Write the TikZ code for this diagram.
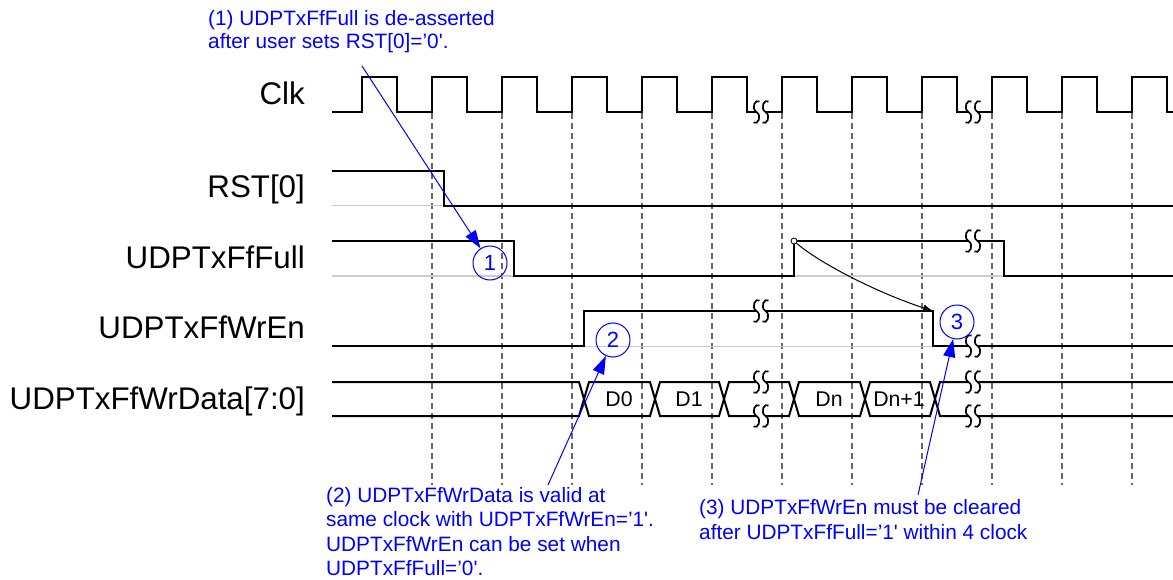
\documentclass[tikz,border=0pt]{standalone}
\usepackage{fontspec}
\setmainfont{Liberation Sans}
\usetikzlibrary{arrows.meta}

\begin{document}
\begin{tikzpicture}[x=1pt, y=-1pt, font=\fontsize{20.8}{24}\selectfont]
    \tikzset{
        wave/.style={line width=2pt, line join=miter},
        baseln/.style={line width=1pt, black!20},
        clkline/.style={line width=1.6pt, black!60, dash pattern=on 6pt off 4pt},
        siglabel/.style={anchor=base east, inner sep=0pt, font=\fontsize{31.3}{31}\selectfont},
        datalabel/.style={inner sep=0pt, font=\fontsize{21.3}{21}\selectfont},
        note/.style={anchor=north west, inner sep=0pt, align=left, text=blue},
        numcirc/.style={circle, draw=blue, line width=1pt, minimum size=34pt,
            inner sep=0pt, text=blue, font=\fontsize{22}{22}\selectfont},
        callout/.style={blue, line width=1pt, -{Triangle[length=18pt, width=12pt]}},
        brk/.pic={
            \fill[white] (-4.5,-4) rectangle (4.5,4);
            \draw[line width=1.7pt] (-1.5,-10.5) .. controls (-5.5,-13.5) and (-10.5,-4) .. (-4.5,0)
                .. controls (1.5,4) and (-3.5,13.5) .. (-7.5,10.5);
            \draw[line width=1.7pt] (7.5,-10.5) .. controls (3.5,-13.5) and (-1.5,-4) .. (4.5,0)
                .. controls (10.5,4) and (5.5,13.5) .. (1.5,10.5);
        }
    }
    \useasboundingbox (0,0) rectangle (1173,580);

    % signal names
    \node[siglabel] (lclk) at (305,105) {Clk};
    \node[siglabel] (lrst) at (305,198) {RST[0]};
    \node[siglabel] (lfull) at (305,269) {UDPTxFfFull};
    \node[siglabel] (lwren) at (305,338) {UDPTxFfWrEn};
    \node[siglabel] (lwrdata) at (305,409) {UDPTxFfWrData[7:0]};

    % clock edges
    \draw[clkline] (432,113) -- (432,485);
    \draw[clkline] (502,113) -- (502,485);
    \draw[clkline] (572,113) -- (572,485);
    \draw[clkline] (642,113) -- (642,485);
    \draw[clkline] (712,113) -- (712,485);
    \draw[clkline] (782,113) -- (782,485);
    \draw[clkline] (852,113) -- (852,485);
    \draw[clkline] (922,113) -- (922,485);
    \draw[clkline] (992,113) -- (992,485);
    \draw[clkline] (1062,113) -- (1062,485);
    \draw[clkline] (1132,113) -- (1132,485);

    \draw[baseln] (332,206) -- (1173,206);
    \draw[baseln] (332,276) -- (1173,276);
    \draw[baseln] (332,346) -- (1173,346);

    % Clk
    \draw[wave] (332,112) -- ++(30,0)
        -- ++(0,-35) -- ++(35,0) -- ++(0,35) -- ++(35,0)
        -- ++(0,-35) -- ++(35,0) -- ++(0,35) -- ++(35,0)
        -- ++(0,-35) -- ++(35,0) -- ++(0,35) -- ++(35,0)
        -- ++(0,-35) -- ++(35,0) -- ++(0,35) -- ++(35,0)
        -- ++(0,-35) -- ++(35,0) -- ++(0,35) -- ++(35,0)
        -- ++(0,-35) -- ++(35,0) -- ++(0,35) -- ++(35,0)
        -- ++(0,-35) -- ++(35,0) -- ++(0,35) -- ++(35,0)
        -- ++(0,-35) -- ++(35,0) -- ++(0,35) -- ++(35,0)
        -- ++(0,-35) -- ++(35,0) -- ++(0,35) -- ++(35,0)
        -- ++(0,-35) -- ++(35,0) -- ++(0,35) -- ++(35,0)
        -- ++(0,-35) -- ++(35,0) -- ++(0,35) -- ++(35,0)
        -- ++(0,-35) -- ++(35,0) -- ++(0,35) -- (1173,112);
    \pic at (761,112) {brk};
    \pic at (973,112) {brk};

    % RST[0]
    \draw[wave] (332,171) -- (444,171) -- (444,206) -- (1173,206);

    % UDPTxFfFull
    \draw[wave] (332,241) -- (514,241) -- (514,276) -- (794,276) -- (794,241)
        -- (1004,241) -- (1004,276) -- (1173,276);
    \pic at (973,241) {brk};

    % UDPTxFfWrEn
    \draw[wave] (332,346) -- (584,346) -- (584,311) -- (933,311) -- (933,346) -- (1173,346);
    \pic at (761,311) {brk};
    \pic at (973,346) {brk};

    % UDPTxFfWrData
    \draw[wave] (332,382) -- (579,382) -- (589,416) -- (650,416) -- (660,382) -- (719,382)
        -- (729,416) -- (789,416) -- (799,382) -- (860,382) -- (870,416) -- (930,416)
        -- (940,382) -- (1173,382);
    \draw[wave] (332,416) -- (579,416) -- (589,382) -- (650,382) -- (660,416) -- (719,416)
        -- (729,382) -- (789,382) -- (799,416) -- (860,416) -- (870,382) -- (930,382)
        -- (940,416) -- (1173,416);
    \pic at (761,382) {brk};
    \pic at (761,416) {brk};
    \pic at (973,382) {brk};
    \pic at (973,416) {brk};
    \node[datalabel] (d0) at (619,399) {D0};
    \node[datalabel] (d1) at (689,399) {D1};
    \node[datalabel] (dn) at (829,399) {Dn};
    \node[datalabel] (dn1) at (899,399) {Dn+1};

    % full -> wren
    \node[circle, draw, fill=white, line width=0.8pt, minimum size=6pt, inner sep=0pt] (fullpt) at (794,241) {};
    \coordinate (enfall) at (933,311);
    \draw[line width=1pt, -{Latex[length=10pt, width=7pt]}] (fullpt) .. controls (818,262) and (875,292) .. (enfall);

    % notes
    \node[numcirc] (c1) at (490,263) {1};
    \node[numcirc] (c2) at (613,340) {2};
    \node[numcirc] (c3) at (957,322) {3};

    \node[note, font=\fontsize{20.8}{23}\selectfont] (n1) at (208,10)
        {(1) UDPTxFfFull is de-asserted\\after user sets RST[0]=’0\textquotesingle.};
    \node[note, font=\fontsize{20.8}{24.5}\selectfont] (n2) at (326,487)
        {(2) UDPTxFfWrData is valid at\\same clock with UDPTxFfWrEn=’1\textquotesingle.\\UDPTxFfWrEn can be set when\\UDPTxFfFull=’0\textquotesingle.};
    \node[note, font=\fontsize{20.8}{25.5}\selectfont] (n3) at (699,499)
        {(3) UDPTxFfWrEn must be cleared\\after UDPTxFfFull=’1\textquotesingle{} within 4 clock};

    \coordinate (a1) at (362,66);
    \coordinate (a2) at (548,485);
    \coordinate (a3) at (918,495);
    \draw[callout] (a1) -- (c1);
    \draw[callout] (a2) -- (c2);
    \draw[callout] (a3) -- (c3);
\end{tikzpicture}
\end{document}
